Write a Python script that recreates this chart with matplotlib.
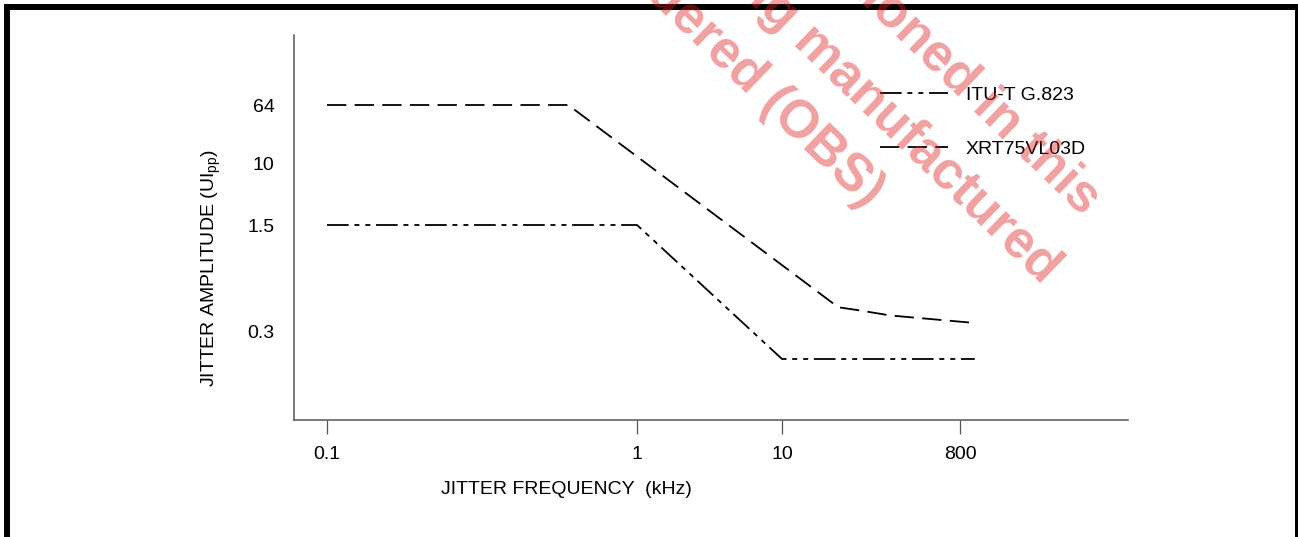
import numpy as np
import matplotlib
matplotlib.use('Agg')
import matplotlib.pyplot as plt
from matplotlib.patches import Rectangle
from matplotlib.lines import Line2D

plt.rcParams['font.family'] = ['Liberation Sans', 'DejaVu Sans']
plt.rcParams['mathtext.fontset'] = 'custom'
plt.rcParams['mathtext.rm'] = 'Liberation Sans'
plt.rcParams['lines.scale_dashes'] = False

W, H = 1298, 537

# Данные (кГц, UIpp)
freq_ticks = [0.1, 1, 10, 800]
freq_labels = ['0.1', '1', '10', '800']
amp_ticks = [0.3, 1.5, 10, 64]
amp_labels = ['0.3', '1.5', '10', '64']

xrt_freq = [0.1, 0.60, 40, 68, 143, 383, 1080]
xrt_amp = [64, 64, 0.43, 0.41, 0.38, 0.36, 0.34]

itu_freq = [0.1, 1, 10, 1150]
itu_amp = [1.5, 1.5, 0.15, 0.15]

# Схематичные оси: декады нарисованы разной длины
x_anchor_vals = [0.1, 1, 10, 800]
x_anchor_pix = [327, 637, 782, 960]
y_anchor_vals = [0.15, 0.3, 1.5, 10, 64]
y_anchor_pix = [-359, -331, -225, -164, -105]


def piecewise_log(vals, pos):
    lv = np.log10(vals)
    pos = np.asarray(pos, float)
    s0 = (pos[1] - pos[0]) / (lv[1] - lv[0])
    s1 = (pos[-1] - pos[-2]) / (lv[-1] - lv[-2])

    def fwd(v):
        l = np.log10(np.clip(np.asarray(v, float), 1e-9, None))
        out = np.interp(l, lv, pos)
        out = np.where(l < lv[0], pos[0] + (l - lv[0]) * s0, out)
        out = np.where(l > lv[-1], pos[-1] + (l - lv[-1]) * s1, out)
        return out

    def inv(p):
        p = np.asarray(p, float)
        l = np.interp(p, pos, lv)
        l = np.where(p < pos[0], lv[0] + (p - pos[0]) / s0, l)
        l = np.where(p > pos[-1], lv[-1] + (p - pos[-1]) / s1, l)
        return 10 ** l

    return fwd, inv


fx, fx_inv = piecewise_log(x_anchor_vals, x_anchor_pix)
fy, fy_inv = piecewise_log(y_anchor_vals, y_anchor_pix)

fig = plt.figure(figsize=(W / 100, H / 100), dpi=100)
ax = fig.add_axes([294 / W, 1 - 420 / H, (1128 - 294) / W, (420 - 35) / H])
ax.set_xscale('function', functions=(fx, fx_inv))
ax.set_yscale('function', functions=(fy, fy_inv))
ax.set_xlim(float(fx_inv(294)), float(fx_inv(1128)))
ax.set_ylim(float(fy_inv(-420)), float(fy_inv(-35)))

dash_xrt = (0, (13.9, 6.0))
dash_itu = (0, (15.6, 4.1, 3.6, 4.3, 3.6, 4.1))

ax.plot(itu_freq, itu_amp, color='black', lw=1.3, linestyle=dash_itu)
ax.plot(xrt_freq, xrt_amp, color='black', lw=1.3, linestyle=dash_xrt)

ax.set_xticks(freq_ticks)
ax.set_xticklabels(freq_labels)
ax.set_yticks(amp_ticks)
ax.set_yticklabels(amp_labels)
ax.minorticks_off()

for s in ['top', 'right']:
    ax.spines[s].set_visible(False)
for s in ['left', 'bottom']:
    ax.spines[s].set_color('#555555')
    ax.spines[s].set_linewidth(1.1)

ax.tick_params(axis='x', length=10, width=0.9, color='#555555', pad=9, labelsize=14)
ax.tick_params(axis='y', length=0, pad=14, labelsize=14)

fig.text(211 / W, 1 - 268 / H, 'JITTER AMPLITUDE (UI$_{\\rm pp}$)', rotation=90,
         ha='center', va='center', fontsize=14)
fig.text(566 / W, 1 - 490 / H, 'JITTER FREQUENCY  (kHz)', ha='center', va='center',
         fontsize=14)

handles = [Line2D([], [], color='black', lw=1.3, linestyle=dash_itu),
           Line2D([], [], color='black', lw=1.3, linestyle=dash_xrt)]
ax.legend(handles, ['ITU-T G.823', 'XRT75VL03D'], loc='upper left',
          bbox_to_anchor=(880 / W, 1 - 86 / H), bbox_transform=fig.transFigure,
          frameon=False, borderpad=0, borderaxespad=0, handlelength=3.5,
          handletextpad=0.9, labelspacing=1.9, fontsize=14)

# Рамка
fig.patches.append(Rectangle((7 / W, -0.05), (1298 - 7) / W, 1.05 - 7 / H,
                             transform=fig.transFigure, fill=False, lw=4.3,
                             ec='black', clip_on=False, zorder=1))

# Водяной знак
wm = [('The part mentioned in this', 1082, 217),
      ('is no longer being manufactured', 1042, 285),
      ('and is considered (OBS)', 866, 209)]
for txt, px, py in wm:
    fig.text(px / W, 1 - py / H, txt, rotation=-44, rotation_mode='anchor',
             ha='right', va='baseline', fontsize=38, fontweight='bold',
             color='#dc1e1e', alpha=0.42, zorder=10)

plt.savefig('out.png', dpi=100)
plt.close()
